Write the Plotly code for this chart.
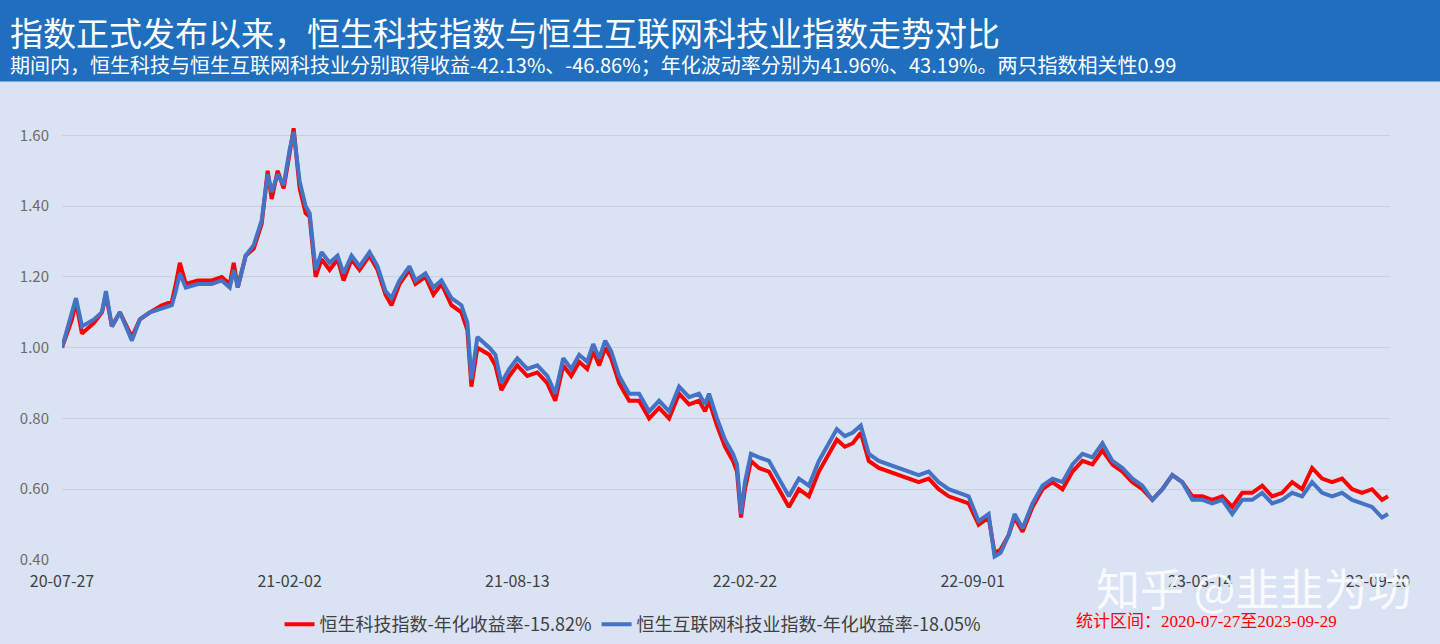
import plotly.graph_objects as go

# config
title = "指数正式发布以来，恒生科技指数与恒生互联网科技业指数走势对比"
subtitle = "期间内，恒生科技与恒生互联网科技业分别取得收益-42.13%、-46.86%；年化波动率分别为41.96%、43.19%。两只指数相关性0.99"
name_red = "恒生科技指数-年化收益率-15.82%"
name_blue = "恒生互联网科技业指数-年化收益率-18.05%"
period_note = "统计区间：2020-07-27至2023-09-29"
watermark = "知乎 @韭韭为功"

tick_idx = [0, 114, 228, 342, 456, 570, 659]
tick_text = ["20-07-27", "21-02-02", "21-08-13", "22-02-22", "22-09-01", "23-03-14", "23-09-20"]

# trading-day index of each sampled point
day = [0, 3, 5, 7, 10, 16, 20, 22, 25, 29,
       35, 39, 44, 50, 55, 57, 59, 62, 68, 75,
       80, 84, 86, 88, 92, 96, 100, 103, 105, 108,
       111, 114, 116, 119, 122, 124, 127, 130, 134, 138,
       141, 145, 149, 154, 158, 162, 165, 169, 174, 177,
       182, 186, 190, 195, 200, 203, 205, 208, 214, 217,
       220, 224, 228, 233, 238, 243, 247, 251, 255, 259,
       263, 266, 269, 272, 275, 279, 284, 289, 294, 299,
       304, 309, 314, 319, 322, 324, 328, 332, 336, 338,
       340, 342, 345, 349, 354, 359, 364, 369, 374, 379,
       384, 388, 392, 396, 400, 404, 409, 414, 419, 424,
       429, 434, 439, 444, 449, 454, 459, 464, 467, 470,
       474, 477, 481, 486, 491, 496, 501, 506, 511, 516,
       521, 526, 531, 536, 541, 546, 551, 556, 561, 566,
       571, 576, 581, 586, 591, 596, 601, 606, 611, 616,
       621, 626, 631, 636, 641, 646, 651, 656, 661, 664]

hstech = [1.00, 1.05, 1.08, 1.13, 1.04, 1.07, 1.10, 1.15, 1.06, 1.10, 1.03, 1.08, 1.10, 1.12, 1.13, 1.18,
          1.24, 1.18, 1.19, 1.19, 1.20, 1.18, 1.24, 1.17, 1.26, 1.28, 1.35, 1.50, 1.42, 1.50, 1.45, 1.55,
          1.62, 1.45, 1.38, 1.37, 1.20, 1.25, 1.22, 1.25, 1.19, 1.25, 1.22, 1.26, 1.22, 1.15, 1.12, 1.18,
          1.22, 1.18, 1.20, 1.15, 1.18, 1.12, 1.10, 1.05, 0.89, 1.00, 0.98, 0.95, 0.88, 0.92, 0.95, 0.92,
          0.93, 0.90, 0.85, 0.95, 0.92, 0.96, 0.94, 0.99, 0.95, 1.00, 0.97, 0.90, 0.85, 0.85, 0.80, 0.83,
          0.80, 0.87, 0.84, 0.85, 0.82, 0.85, 0.78, 0.72, 0.68, 0.65, 0.52, 0.60, 0.68, 0.66, 0.65, 0.60,
          0.55, 0.60, 0.58, 0.65, 0.70, 0.74, 0.72, 0.73, 0.76, 0.68, 0.66, 0.65, 0.64, 0.63, 0.62, 0.63,
          0.60, 0.58, 0.57, 0.56, 0.50, 0.52, 0.42, 0.43, 0.47, 0.52, 0.48, 0.55, 0.60, 0.62, 0.60, 0.65,
          0.68, 0.67, 0.71, 0.67, 0.65, 0.62, 0.60, 0.57, 0.60, 0.64, 0.62, 0.58, 0.58, 0.57, 0.58, 0.55,
          0.59, 0.59, 0.61, 0.58, 0.59, 0.62, 0.60, 0.66, 0.63, 0.62, 0.63, 0.60, 0.59, 0.60, 0.57, 0.58]

hsiii = [1.00, 1.06, 1.09, 1.14, 1.06, 1.08, 1.10, 1.16, 1.06, 1.10, 1.02, 1.08, 1.10, 1.11, 1.12, 1.16,
         1.21, 1.17, 1.18, 1.18, 1.19, 1.17, 1.22, 1.17, 1.26, 1.29, 1.36, 1.49, 1.44, 1.49, 1.46, 1.56,
         1.61, 1.47, 1.40, 1.38, 1.22, 1.27, 1.24, 1.26, 1.21, 1.26, 1.23, 1.27, 1.23, 1.16, 1.14, 1.19,
         1.23, 1.19, 1.21, 1.17, 1.19, 1.14, 1.12, 1.07, 0.91, 1.03, 1.00, 0.98, 0.90, 0.94, 0.97, 0.94,
         0.95, 0.92, 0.87, 0.97, 0.94, 0.98, 0.96, 1.01, 0.97, 1.02, 0.99, 0.92, 0.87, 0.87, 0.82, 0.85,
         0.82, 0.89, 0.86, 0.87, 0.84, 0.87, 0.80, 0.74, 0.70, 0.67, 0.53, 0.62, 0.70, 0.69, 0.68, 0.63,
         0.58, 0.63, 0.61, 0.68, 0.73, 0.77, 0.75, 0.76, 0.78, 0.70, 0.68, 0.67, 0.66, 0.65, 0.64, 0.65,
         0.62, 0.60, 0.59, 0.58, 0.51, 0.53, 0.41, 0.42, 0.47, 0.53, 0.49, 0.56, 0.61, 0.63, 0.62, 0.67,
         0.70, 0.69, 0.73, 0.68, 0.66, 0.63, 0.61, 0.57, 0.60, 0.64, 0.62, 0.57, 0.57, 0.56, 0.57, 0.53,
         0.57, 0.57, 0.59, 0.56, 0.57, 0.59, 0.58, 0.62, 0.59, 0.58, 0.59, 0.57, 0.56, 0.55, 0.52, 0.53]

fig = go.Figure()
fig.add_trace(go.Scatter(x=day, y=hstech, mode="lines", name=name_red,
                         line=dict(color="#ff0000", width=4)))
fig.add_trace(go.Scatter(x=day, y=hsiii, mode="lines", name=name_blue,
                         line=dict(color="#4472c4", width=4)))

# header bar
fig.add_shape(type="rect", xref="paper", yref="paper", x0=-0.1, x1=1.1, y0=1.04, y1=1.3,
              fillcolor="#1f6fbe", line_width=0, layer="below")
fig.add_annotation(text=title, xref="paper", yref="paper", x=-0.041, y=1.205, xanchor="left", yanchor="top",
                   showarrow=False, font=dict(size=33, color="white"))
fig.add_annotation(text=subtitle, xref="paper", yref="paper", x=-0.041, y=1.113, xanchor="left", yanchor="top",
                   showarrow=False, font=dict(size=20, color="white"))
fig.add_annotation(text=watermark, xref="paper", yref="paper", x=0.777, y=0.015, xanchor="left", yanchor="top",
                   showarrow=False, font=dict(size=44, color="rgba(255,255,255,0.85)"))
fig.add_annotation(text=period_note, xref="paper", yref="paper", x=0.762, y=-0.108, xanchor="left", yanchor="top",
                   showarrow=False, font=dict(size=17, color="#ff0000", family="Liberation Serif, Noto Sans CJK SC"))

fig.update_layout(
    width=1440, height=644,
    margin=dict(l=62, r=50, t=100, b=84, autoexpand=False),
    paper_bgcolor="#dae3f3", plot_bgcolor="#dae3f3",
    font=dict(family="Noto Sans CJK SC", color="#404040"),
    showlegend=True,
    legend=dict(orientation="h", x=0.43, xanchor="center", y=-0.1, yanchor="top",
                font=dict(size=18, color="#404040"), bgcolor="rgba(0,0,0,0)"),
    xaxis=dict(range=[0, 665], tickvals=tick_idx, ticktext=tick_text, showgrid=False, automargin=False,
               zeroline=False, tickfont=dict(size=16, color="#404040"), ticks="", ticklabelstandoff=10),
    yaxis=dict(range=[0.4, 1.7], tickvals=[0.4, 0.6, 0.8, 1.0, 1.2, 1.4, 1.6], tickformat=".2f",
               gridcolor="#c9d1de", zeroline=False, automargin=False,
               tickfont=dict(size=15, color="#6b6b6b"), ticklabelstandoff=12),
)
fig.write_html("out.html", config={"displayModeBar": False},
               post_script="document.body.style.margin='0';")
